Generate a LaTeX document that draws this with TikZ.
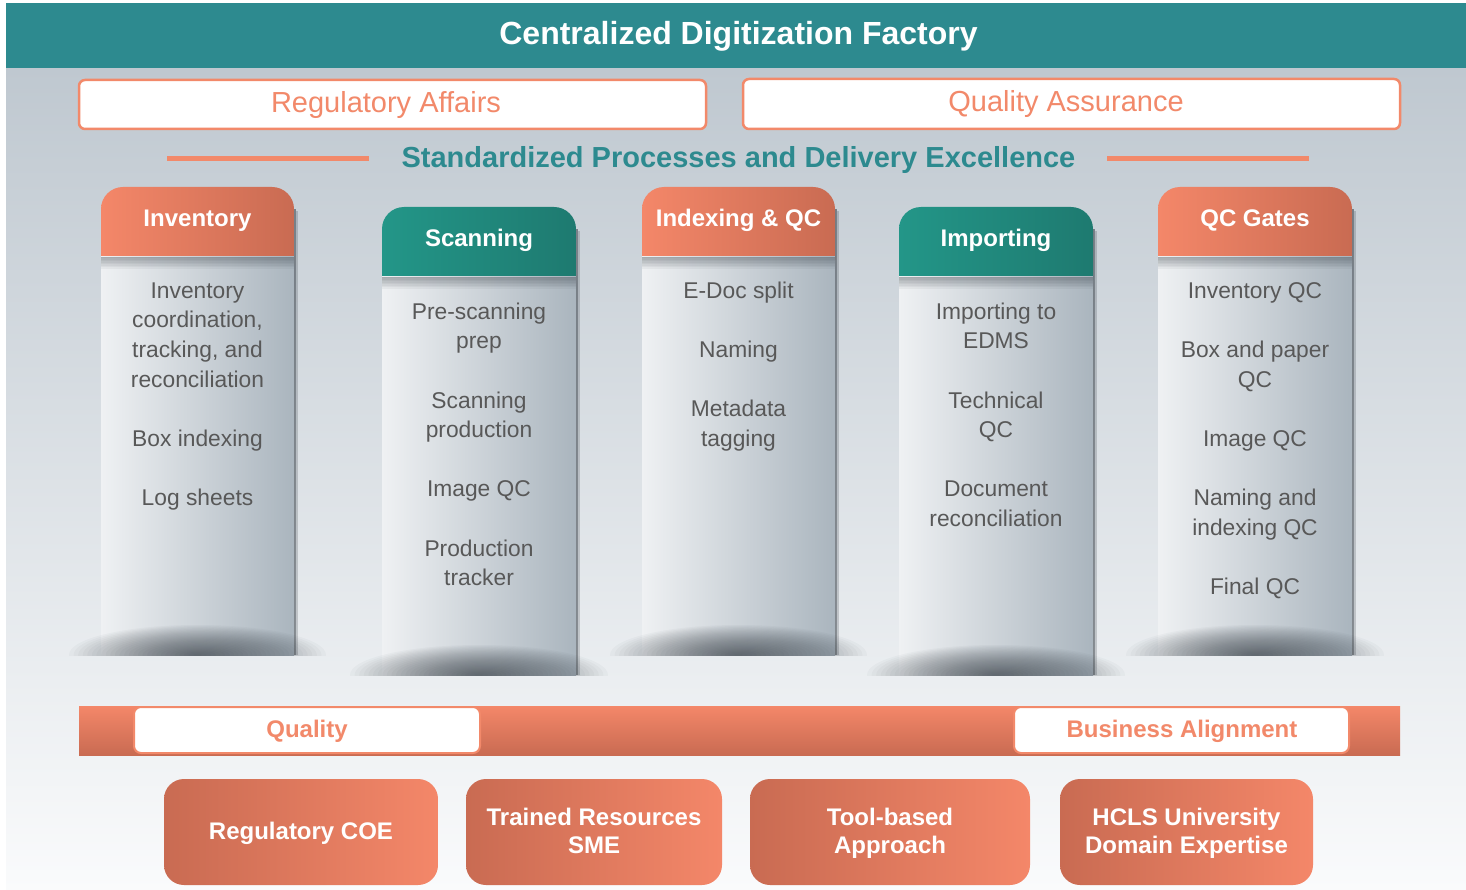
\documentclass[tikz,border=0pt]{standalone}
\usepackage{fontspec}
\setmainfont{Liberation Sans}
\definecolor{teal1}{RGB}{45,138,143}
\definecolor{salmon}{RGB}{242,137,106}
\definecolor{salL}{RGB}{244,135,105}
\definecolor{salD}{RGB}{201,107,82}
\definecolor{tealL}{RGB}{35,150,136}
\definecolor{tealD}{RGB}{30,122,112}
\definecolor{bodyL}{RGB}{239,241,243}
\definecolor{bodyM}{RGB}{212,218,223}
\definecolor{bodyR}{RGB}{170,181,190}
\definecolor{txtgray}{RGB}{88,88,88}
\definecolor{bgtop}{RGB}{191,200,208}
\definecolor{bgbot}{RGB}{250,251,252}
\definecolor{shcol}{RGB}{40,48,56}
\newcommand{\mycolumn}[6]{%
  \shade[left color=#5, right color=#6, rounded corners=22pt] (#1,#3) rectangle (#2,#3+95);
  \shade[left color=bodyL, middle color=bodyM, right color=bodyR] (#1,#3+70) rectangle (#2,#4);
  \foreach \k in {1,...,8}{\fill[shcol, opacity=0.05] (#1,#3+70) rectangle (#2,{#3+70+\k*1.5});}
  \fill[shcol, opacity=0.5] (#2,#3+22) rectangle (#2+2,#4);
  \fill[shcol, opacity=0.2] (#2+2,#3+24) rectangle (#2+3.5,#4);
  \begin{scope}
    \clip (#1-70,#4-80) rectangle (#2+70,#4);
    \foreach \k in {1,...,28}{\fill[shcol, opacity=0.032] ({(#1+#2)/2},#4) ellipse ({((#2-#1)/2+32)*\k/28} and {30*\k/28});}
  \end{scope}
}
\begin{document}
\begin{tikzpicture}[x=1pt,y=-1pt,
  titletxt/.style={font=\fontsize{32}{38}\selectfont\bfseries, text=white, inner sep=0, anchor=base},
  toptxt/.style={font=\fontsize{29}{34}\selectfont, text=salmon, inner sep=0, anchor=base},
  subtxt/.style={font=\fontsize{29}{34}\selectfont\bfseries, text=teal1, inner sep=0, anchor=base},
  headtxt/.style={font=\fontsize{24}{28}\selectfont\bfseries, text=white, inner sep=0, anchor=base},
  bodytxt/.style={font=\fontsize{22.8}{29.6}\selectfont, text=txtgray, inner sep=0, anchor=north, align=center},
  bandtxt/.style={font=\fontsize{24}{28}\selectfont\bfseries, text=salmon, inner sep=0, anchor=base},
  bottxt/.style={font=\fontsize{24}{28.5}\selectfont\bfseries, text=white, inner sep=0, anchor=north, align=center},
  topbox/.style={draw=salmon, line width=2.5pt, fill=white, rounded corners=6pt},
  bandbox/.style={draw=salmon, line width=2pt, fill=white, rounded corners=7pt},
  botbox/.style={left color=salD, right color=salL, rounded corners=20pt}
]
\useasboundingbox (0,0) rectangle (1466,890);
% background
\shade[top color=bgtop, bottom color=bgbot] (6,68) rectangle (1466,890);
\fill[teal1] (6,3) rectangle (1466,68);
\node[titletxt] (title) at (738.5,45) {Centralized Digitization Factory};
% top boxes
\draw[topbox] (79,80) rectangle (706,129);
\node[toptxt] (ra) at (386,113) {Regulatory Affairs};
\draw[topbox] (743,79) rectangle (1400,129);
\node[toptxt] (qa) at (1066,112) {Quality Assurance};
% subtitle
\fill[salmon] (167,156.5) rectangle (369,161.5);
\fill[salmon] (1107,156.5) rectangle (1309,161.5);
\node[subtxt] (sub) at (738.5,168) {Standardized Processes and Delivery Excellence};
% columns
\mycolumn{101}{294}{187}{655}{salL}{salD}
\mycolumn{382}{576}{207}{675}{tealL}{tealD}
\mycolumn{642}{835}{187}{655}{salL}{salD}
\mycolumn{899}{1093}{207}{675}{tealL}{tealD}
\mycolumn{1158}{1352}{187}{655}{salL}{salD}
\node[headtxt] (h1) at (197.5,227) {Inventory};
\node[headtxt] (h2) at (479,247) {Scanning};
\node[headtxt] (h3) at (738.5,227) {Indexing \& QC};
\node[headtxt] (h4) at (996,247) {Importing};
\node[headtxt] (h5) at (1255,227) {QC Gates};
\node[bodytxt] (b1) at (197.5,277.3) {\strut Inventory\\coordination,\\tracking, and\\reconciliation\\[29.6pt]Box indexing\\[29.6pt]Log sheets};
\node[bodytxt] (b2) at (479,298.3) {\strut Pre-scanning\\prep\\[29.6pt]Scanning\\production\\[29.6pt]Image QC\\[29.6pt]Production\\tracker};
\node[bodytxt] (b3) at (738.5,277.3) {\strut E-Doc split\\[29.6pt]Naming\\[29.6pt]Metadata\\tagging};
\node[bodytxt] (b4) at (996,298.3) {\strut Importing to\\EDMS\\[29.6pt]Technical\\QC\\[29.6pt]Document\\reconciliation};
\node[bodytxt] (b5) at (1255,277.3) {\strut Inventory QC\\[29.6pt]Box and paper\\QC\\[29.6pt]Image QC\\[29.6pt]Naming and\\indexing QC\\[29.6pt]Final QC};
% band
\shade[top color=salL, bottom color=salD] (79,706) rectangle (1400,755);
\draw[bandbox] (134,707) rectangle (480,753);
\node[bandtxt] (q) at (307,737) {Quality};
\draw[bandbox] (1014,707) rectangle (1349,753);
\node[bandtxt] (ba) at (1182,737) {Business Alignment};
% bottom boxes
\shade[botbox] (164,779) rectangle (438,885);
\node[bottxt] (r1) at (301,819.05) {\strut Regulatory COE};
\shade[botbox] (466,779) rectangle (722,885);
\node[bottxt] (r2) at (594,805.05) {\strut Trained Resources\\SME};
\shade[botbox] (750,779) rectangle (1030,885);
\node[bottxt] (r3) at (890,805.05) {\strut Tool-based\\Approach};
\shade[botbox] (1060,779) rectangle (1313,885);
\node[bottxt] (r4) at (1186.5,805.05) {\strut HCLS University\\Domain Expertise};
\end{tikzpicture}
\end{document}
